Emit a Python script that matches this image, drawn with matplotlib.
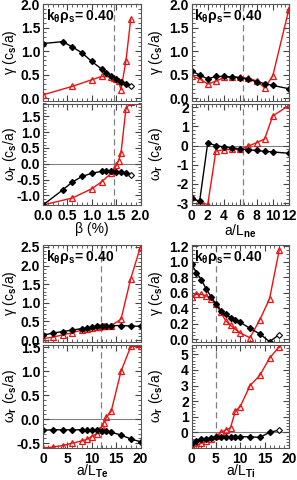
import matplotlib
matplotlib.use("Agg")
import matplotlib.pyplot as plt
from matplotlib.ticker import AutoMinorLocator, FormatStrFormatter

plt.rcParams['font.family'] = ['Liberation Sans', 'DejaVu Sans']
plt.rcParams['font.weight'] = 'bold'
plt.rcParams['mathtext.fontset'] = 'custom'
plt.rcParams['mathtext.rm'] = 'Liberation Sans:bold'
plt.rcParams['mathtext.it'] = 'Liberation Sans:bold'
plt.rcParams['mathtext.bf'] = 'Liberation Sans:bold'

RED = '#ee1111'

# ---- beta scan ----
beta_blk = [0, 0.4, 0.6, 0.8, 1.0, 1.2, 1.3, 1.4, 1.5, 1.6, 1.7, 1.8]
gam_blk_beta = [1.16, 1.2, 1.09, 0.96, 0.78, 0.62, 0.53, 0.47, 0.41, 0.35, 0.30, 0.25]
om_blk_beta = [-1.3, -0.83, -0.58, -0.40, -0.30, -0.24, -0.24, -0.24, -0.25, -0.27, -0.30, -0.34]
beta_red = [0, 0.6, 1.0, 1.2, 1.4, 1.45, 1.5, 1.55, 1.6, 1.7, 1.8]
gam_red_beta = [0.07, 0.25, 0.39, 0.46, 0.45, 0.43, 0.40, 0.36, 0.18, 0.78, 1.68]
om_red_beta = [-1.3, -1.08, -0.79, -0.57, -0.30, -0.22, -0.05, 0.10, 0.34, 1.72, 1.95]

# ---- a/Lne scan ----
x_ne = [0, 1, 2, 3, 4, 5, 6, 7, 8, 9, 10, 12]
gam_blk_ne = [0.58, 0.49, 0.41, 0.46, 0.46, 0.45, 0.43, 0.40, 0.35, 0.31, 0.27, 0.20]
gam_red_ne = [0.47, 0.41, 0.30, 0.36, 0.44, 0.45, 0.45, 0.42, 0.37, 0.22, 0.47, 1.90]
om_blk_ne = [-2.75, -2.9, 0.15, 0.0, -0.07, -0.12, -0.17, -0.22, -0.25, -0.30, -0.33, -0.40]
om_red_ne = [-2.7, -2.95, -3.08, -0.28, -0.22, -0.20, -0.20, -0.02, 0.15, 0.35, 1.55, 2.1]

# ---- a/LTe scan ----
x_te_blk = [0, 2, 4, 6, 8, 9, 10, 11, 12, 13, 14, 16, 18, 20]
gam_blk_te = [0.13, 0.19, 0.23, 0.27, 0.31, 0.33, 0.35, 0.37, 0.38, 0.39, 0.39, 0.39, 0.38, 0.37]
om_blk_te = [-0.23, -0.22, -0.22, -0.22, -0.22, -0.22, -0.22, -0.23, -0.24, -0.25, -0.27, -0.33, -0.41, -0.47]
x_te_red = [0, 2, 4, 6, 8, 9, 10, 11, 11.5, 12, 12.5, 13, 14, 16, 18, 20]
gam_red_te = [0.04, 0.08, 0.14, 0.20, 0.27, 0.30, 0.33, 0.35, 0.36, 0.37, 0.38, 0.38, 0.39, 0.56, 1.65, 2.5]
om_red_te = [-0.6, -0.58, -0.55, -0.5, -0.45, -0.42, -0.36, -0.3, -0.22, -0.16, -0.07, 0.04, 0.17, 1.0, 1.52, 1.52]

# ---- a/LTi scan ----
x_ti = [0, 1, 2, 3, 4, 5, 6, 7, 8, 9, 10, 12, 14, 16, 18]
gam_blk_ti = [0.97, 0.86, 0.77, 0.65, 0.55, 0.45, 0.37, 0.32, 0.28, 0.25, 0.22, 0.14, 0.07, -0.03, 0.06]
gam_red_ti = [0.55, 0.58, 0.58, 0.56, 0.52, 0.46, 0.35, 0.24, 0.18, 0.13, 0.08, 0.02, 0.25, 0.52, 1.15]
om_blk_ti = [-0.65, -0.55, -0.45, -0.4, -0.35, -0.3, -0.28, -0.28, -0.28, -0.28, -0.28, -0.28, -0.32, 0.0, 0.15]
om_red_ti = [-1.0, -0.85, -0.7, -0.55, -0.4, -0.25, 0.0, 0.15, 0.3, 1.37, 1.65, 3.0, 3.65, 4.75, 5.5]

W, H = 297, 480
fig = plt.figure(figsize=(W / 100, H / 100), dpi=100)


def px_axes(left, top, right, bottom):
    return fig.add_axes([left / W, 1 - bottom / H, (right - left) / W, (bottom - top) / H])


def style(ax, xt, yt, yfmt):
    ax.set_xticks(xt)
    ax.set_yticks(yt)
    ax.yaxis.set_major_formatter(FormatStrFormatter(yfmt))
    ax.xaxis.set_minor_locator(AutoMinorLocator())
    ax.yaxis.set_minor_locator(AutoMinorLocator())
    ax.tick_params(which='both', direction='in', top=True, right=True,
                   labelsize=10, color='#444444')
    ax.tick_params(axis='y', pad=2)
    ax.tick_params(axis='x', pad=3)
    ax.tick_params(which='major', length=4)
    ax.tick_params(which='minor', length=2)
    for s in ax.spines.values():
        s.set_color('#555555')
        s.set_linewidth(0.8)


def curves(ax, xb, yb, xr, yr, open_last):
    ax.plot(xr, yr, '-', color=RED, lw=1.0, marker='^', ms=4.5, mfc='none', mec=RED, mew=0.9)
    if open_last:
        ax.plot(xb[:-1], yb[:-1], '-', color='k', lw=1.0, marker='D', ms=3, mfc='k', mec='k')
        ax.plot(xb[-2:], yb[-2:], '-', color='k', lw=1.0)
        ax.plot(xb[-1], yb[-1], 'D', ms=3, mfc='white', mec='k', mew=0.8)
    else:
        ax.plot(xb, yb, '-', color='k', lw=1.0, marker='D', ms=3, mfc='k', mec='k')


def panel(left, top, mid, bottom, xb, gb, ob, xr, gr, orr, xlim, xt, xlabel,
          glim, gt, gfmt, olim, ot, ofmt, vline, open_last, label_x, xlab_y):
    right = left + 97.5
    ax1 = px_axes(left, top, right, mid - 1.5)
    ax2 = px_axes(left, mid + 1.5, right, bottom)
    curves(ax1, xb, gb, xr, gr, open_last)
    curves(ax2, xb, ob, xr, orr, open_last)
    ax2.axhline(0, color='gray', lw=0.8, zorder=0)
    for ax in (ax1, ax2):
        ax.axvline(vline, color='gray', ls=(0, (5, 3)), lw=0.9, zorder=0)
        ax.set_xlim(xlim)
    ax1.set_ylim(glim)
    ax2.set_ylim(olim)
    style(ax1, xt, gt, gfmt)
    style(ax2, xt, ot, ofmt)
    ax1.tick_params(labelbottom=False)
    ax1.set_ylabel('γ (c$_s$/a)', fontsize=10)
    ax2.set_ylabel('ω$_r$ (c$_s$/a)', fontsize=10)
    # label_x is the right edge of the rotated label, in figure pixels
    lx = (label_x - left) / 97.5
    ax1.yaxis.set_label_coords(lx, 0.5)
    ax2.yaxis.set_label_coords(lx, 0.5)
    ax2.set_xlabel(xlabel, fontsize=10)
    ax2.xaxis.set_label_coords(0.5, xlab_y)
    ax1.text(0.03, 0.97, 'k$_θ$ρ$_s$= 0.40', transform=ax1.transAxes,
             ha='left', va='top', fontsize=10, fontweight='bold')
    return ax1, ax2


panel(43, 4, 102, 205, beta_blk, gam_blk_beta, om_blk_beta,
      beta_red, gam_red_beta, om_red_beta,
      (0, 2.0), [0, 0.5, 1.0, 1.5, 2.0], 'β (%)',
      (-0.05, 2.0), [0, 0.5, 1.0, 1.5, 2.0], '%.1f',
      (-1.3, 1.9), [-1.0, -0.5, 0, 0.5, 1.0, 1.5], '%.1f', 1.45, True, 19, -0.17)

panel(191.5, 4, 102, 205, x_ne, gam_blk_ne, om_blk_ne,
      x_ne, gam_red_ne, om_red_ne,
      (0, 12), [0, 2, 4, 6, 8, 10, 12], 'a/L$_{ne}$',
      (-0.05, 2.0), [0, 0.5, 1.0, 1.5, 2.0], '%.1f',
      (-3.1, 2.2), [-3, -2, -1, 0, 1, 2], '%d', 6.3, False, 165, -0.17)

panel(43, 245, 343.5, 448, x_te_blk, gam_blk_te, om_blk_te,
      x_te_red, gam_red_te, om_red_te,
      (0, 20), [0, 5, 10, 15, 20], 'a/L$_{Te}$',
      (-0.05, 2.55), [0, 0.5, 1.0, 1.5, 2.0, 2.5], '%.1f',
      (-0.6, 1.55), [-0.5, 0, 0.5, 1.0, 1.5], '%.1f', 11.9, False, 19, -0.145)

panel(191.5, 245, 343.5, 448, x_ti, gam_blk_ti, om_blk_ti,
      x_ti, gam_red_ti, om_red_ti,
      (0, 20), [0, 5, 10, 15, 20], 'a/L$_{Ti}$',
      (-0.035, 1.215), [0, 0.2, 0.4, 0.6, 0.8, 1.0, 1.2], '%.1f',
      (-1.0, 5.6), [0, 1, 2, 3, 4, 5], '%d', 5.1, True, 165, -0.145)

fig.savefig('out.png', dpi=100)
